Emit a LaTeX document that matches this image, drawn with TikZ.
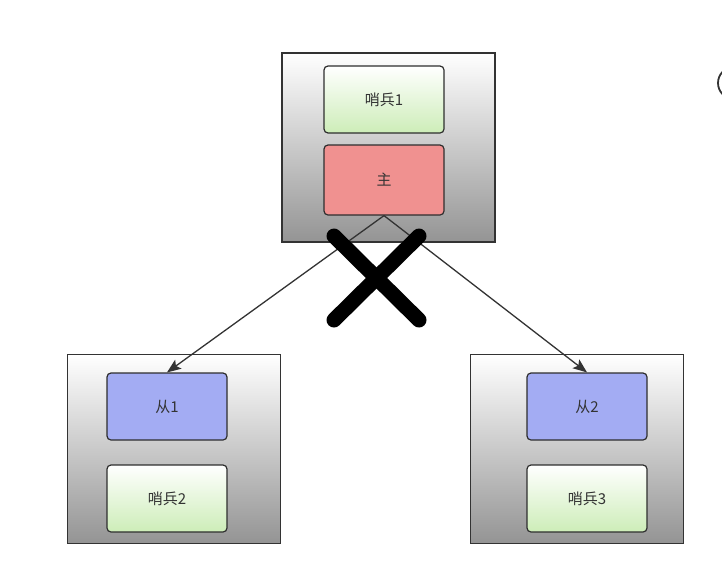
\documentclass[tikz,border=0pt]{standalone}
\usepackage{fontspec}
\setmainfont{Noto Sans CJK SC}
\usetikzlibrary{arrows.meta}
\definecolor{edgegray}{HTML}{333333}
\definecolor{sentgreen}{HTML}{CDEDB8}
\definecolor{masterred}{HTML}{F09190}
\definecolor{slaveblue}{HTML}{A3ACF3}
\tikzset{
    host/.style={draw=edgegray, line width=1.3pt, top color=white, bottom color=black!42,
        minimum width=213pt, minimum height=189pt},
    inbox/.style={draw=edgegray!90!black, line width=1.2pt, rounded corners=4pt,
        minimum width=120pt, minimum height=67pt, text=edgegray, font=\fontsize{15}{17}\selectfont},
    sentinel/.style={inbox, top color=white, bottom color=sentgreen},
    master/.style={inbox, fill=masterred},
    slave/.style={inbox, fill=slaveblue},
    link/.style={draw=edgegray, line width=1.3pt, -{Stealth[length=14pt,width=11pt,inset=3pt]}}
}

\begin{document}
\begin{tikzpicture}[x=1pt,y=-1pt]
    \useasboundingbox (0,0) rectangle (722,587);

    % three hosts
    \node[host] (hostM) at (388.5,147.5) {};
    \node[host] (hostA) at (174,449) {};
    \node[host] (hostB) at (577,449) {};

    % top host: sentinel + master
    \node[sentinel] (sentinel1) at (384,99.5) {哨兵1};
    \node[master, minimum height=70pt] (master) at (384,180) {主};

    % lower hosts: slave + sentinel
    \node[slave] (slave1) at (167,406.5) {从1};
    \node[sentinel] (sentinel2) at (167,498.5) {哨兵2};
    \node[slave] (slave2) at (587,406.5) {从2};
    \node[sentinel] (sentinel3) at (587,498.5) {哨兵3};

    % replication links
    \draw[link] (master.south) -- (slave1.north);
    \draw[link] (master.south) -- (slave2.north);

    % broken master
    \coordinate (crossA) at (334,236);
    \coordinate (crossB) at (419,320);
    \coordinate (crossC) at (419,236);
    \coordinate (crossD) at (334,320);
    \draw[line width=15pt, line cap=round] (crossA) -- (crossB);
    \draw[line width=15pt, line cap=round] (crossC) -- (crossD);

    % cut-off shape at the right edge
    \draw[edgegray, line width=1.8pt] (734,83) ++(135:16) arc (135:225:16);
\end{tikzpicture}
\end{document}
